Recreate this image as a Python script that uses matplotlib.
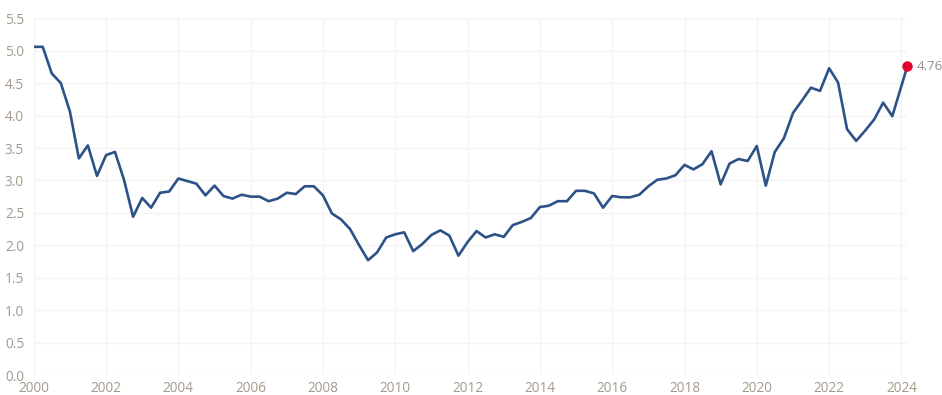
import matplotlib
matplotlib.use("Agg")
import matplotlib.pyplot as plt
import pandas as pd

# quarterly observations 2000Q1 .. 2023Q4, plus the latest reading
quarter_starts = pd.date_range("2000-01-01", periods=96, freq="QS")
latest_date = pd.Timestamp("2024-03-01")

values = [
    5.06, 5.06, 4.65, 4.50, 4.06, 3.34, 3.54, 3.07, 3.39, 3.44, 3.01, 2.44,
    2.73, 2.58, 2.81, 2.83, 3.03, 2.99, 2.95, 2.77, 2.92, 2.76, 2.72, 2.78,
    2.75, 2.75, 2.68, 2.72, 2.81, 2.79, 2.91, 2.91, 2.77, 2.49, 2.40, 2.25,
    2.00, 1.77, 1.89, 2.12, 2.17, 2.20, 1.91, 2.02, 2.16, 2.23, 2.15, 1.84,
    2.05, 2.22, 2.12, 2.17, 2.13, 2.31, 2.36, 2.42, 2.59, 2.61, 2.68, 2.68,
    2.84, 2.84, 2.80, 2.58, 2.76, 2.74, 2.74, 2.78, 2.91, 3.01, 3.03, 3.08,
    3.24, 3.17, 3.25, 3.45, 2.94, 3.26, 3.33, 3.30, 3.53, 2.92, 3.44, 3.65,
    4.04, 4.23, 4.43, 4.38, 4.73, 4.51, 3.79, 3.61, 3.77, 3.94, 4.20, 3.99,
]
latest_value = 4.76

dates = list(quarter_starts) + [latest_date]
series = values + [latest_value]

y_ticks = [0.0, 0.5, 1.0, 1.5, 2.0, 2.5, 3.0, 3.5, 4.0, 4.5, 5.0, 5.5]
x_tick_years = list(range(2000, 2025, 2))

line_color = "#2c5287"
tick_color = "#a39a8c"
grid_color = "#f3f3f3"

plt.rcParams["font.family"] = ["Open Sans", "DejaVu Sans"]

fig = plt.figure(figsize=(9.42, 3.95), dpi=100)
ax = fig.add_axes([0.0358, 0.0506, 0.9274, 0.9031])

ax.plot(dates, series, color=line_color, lw=1.9, solid_joinstyle="round", zorder=3)
ax.plot([latest_date], [latest_value], "o", color="#e4002b", ms=6.5, zorder=4,
        clip_on=False)
ax.annotate(f"{latest_value:.2f}", (latest_date, latest_value), xytext=(6.5, 0),
            textcoords="offset points", va="center", ha="left",
            color="#8f8f8f", fontsize=9.5, annotation_clip=False)

ax.set_ylim(0, 5.5)
ax.set_xlim(pd.Timestamp("2000-01-01"), latest_date)
ax.set_yticks(y_ticks)
ax.set_yticklabels([f"{t:.1f}" for t in y_ticks])
ax.set_xticks([pd.Timestamp(f"{y}-01-01") for y in x_tick_years])
ax.set_xticklabels([str(y) for y in x_tick_years])

ax.grid(True, color=grid_color, lw=1.0)
ax.set_axisbelow(True)
for s in ax.spines.values():
    s.set_visible(False)
ax.tick_params(axis="both", length=0, colors=tick_color, labelsize=9.8)
ax.tick_params(axis="y", pad=7)
ax.tick_params(axis="x", pad=4)

fig.savefig("out.png", dpi=100)
